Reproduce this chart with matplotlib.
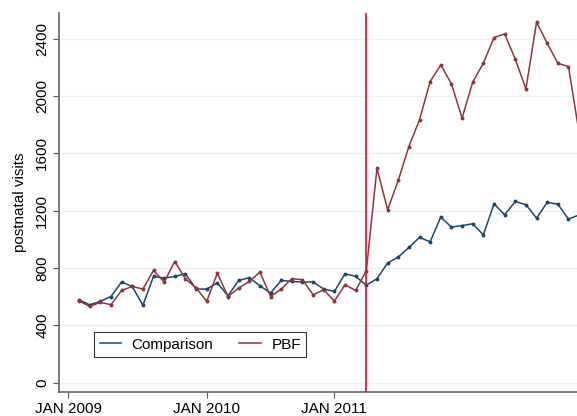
import matplotlib
matplotlib.use("Agg")
import matplotlib.pyplot as plt

plt.rcParams['font.family'] = ['Liberation Sans', 'DejaVu Sans']

# month index (0 = first observed month)
months = list(range(48))

comparison = [578, 543, 567, 601, 702, 671, 539, 741, 729, 741, 760, 653,
              653, 695, 606, 713, 732, 676, 625, 713, 706, 702, 702, 653,
              636, 760, 741, 680, 725, 834, 876, 943, 1013, 983, 1155, 1085,
              1096, 1108, 1031, 1247, 1171, 1264, 1241, 1148, 1257, 1245, 1141, 1170]

pbf = [570, 532, 560, 544, 643, 671, 653, 783, 702, 845, 723, 662,
       567, 764, 601, 660, 706, 771, 601, 653, 725, 718, 613, 648,
       569, 683, 643, 780, 1496, 1206, 1410, 1647, 1833, 2100, 2216, 2084,
       1845, 2096, 2228, 2407, 2432, 2256, 2049, 2514, 2367, 2228, 2204, 1740]

tick_pos = [-1, 12, 24]
tick_labels = ["JAN 2009", "JAN 2010", "JAN 2011"]
yticks = [0, 400, 800, 1200, 1600, 2000, 2400]
policy_start = 27

blue = "#1a476f"
maroon = "#90353b"

fig = plt.figure(figsize=(5.77, 4.16), dpi=100)
ax = fig.add_axes([0.1023, 0.0577, 0.8977, 0.911])

for y in yticks:
    ax.axhline(y, color="#eaf2f3", lw=1.0, zorder=0)

ax.plot(months, comparison, color=blue, lw=1.1, marker="o", ms=1.8,
        label="Comparison", zorder=3)
ax.plot(months, pbf, color=maroon, lw=1.1, marker="o", ms=1.8,
        label="PBF", zorder=3)
ax.axvline(policy_start, color="#d0103a", lw=1.2, zorder=4)

ax.set_xlim(-1.88, 46.8)
ax.set_ylim(-65, 2578)

ax.set_yticks(yticks)
ax.set_yticklabels([str(v) for v in yticks], rotation=90, va="center", fontsize=11)
ax.set_xticks(tick_pos)
ax.set_xticklabels(tick_labels, fontsize=11)
ax.tick_params(axis="both", color="#555555", length=4, width=0.8)
ax.tick_params(axis="x", pad=3)
ax.tick_params(axis="y", pad=3)

ax.set_ylabel("postnatal visits", fontsize=11, labelpad=6)

for s in ["top", "right"]:
    ax.spines[s].set_visible(False)
for s in ["left", "bottom"]:
    ax.spines[s].set_color("#666666")
    ax.spines[s].set_linewidth(1.2)

leg = ax.legend(loc="lower left", bbox_to_anchor=(0.068, 0.092), ncol=2,
                fontsize=11, frameon=True, fancybox=False, handlelength=1.4,
                columnspacing=1.7, borderpad=0.35, handletextpad=0.7,
                borderaxespad=0)
leg.get_frame().set_edgecolor("black")
leg.get_frame().set_linewidth(0.8)
for h in leg.legend_handles:
    h.set_marker("")

fig.savefig("out.png", dpi=100)
